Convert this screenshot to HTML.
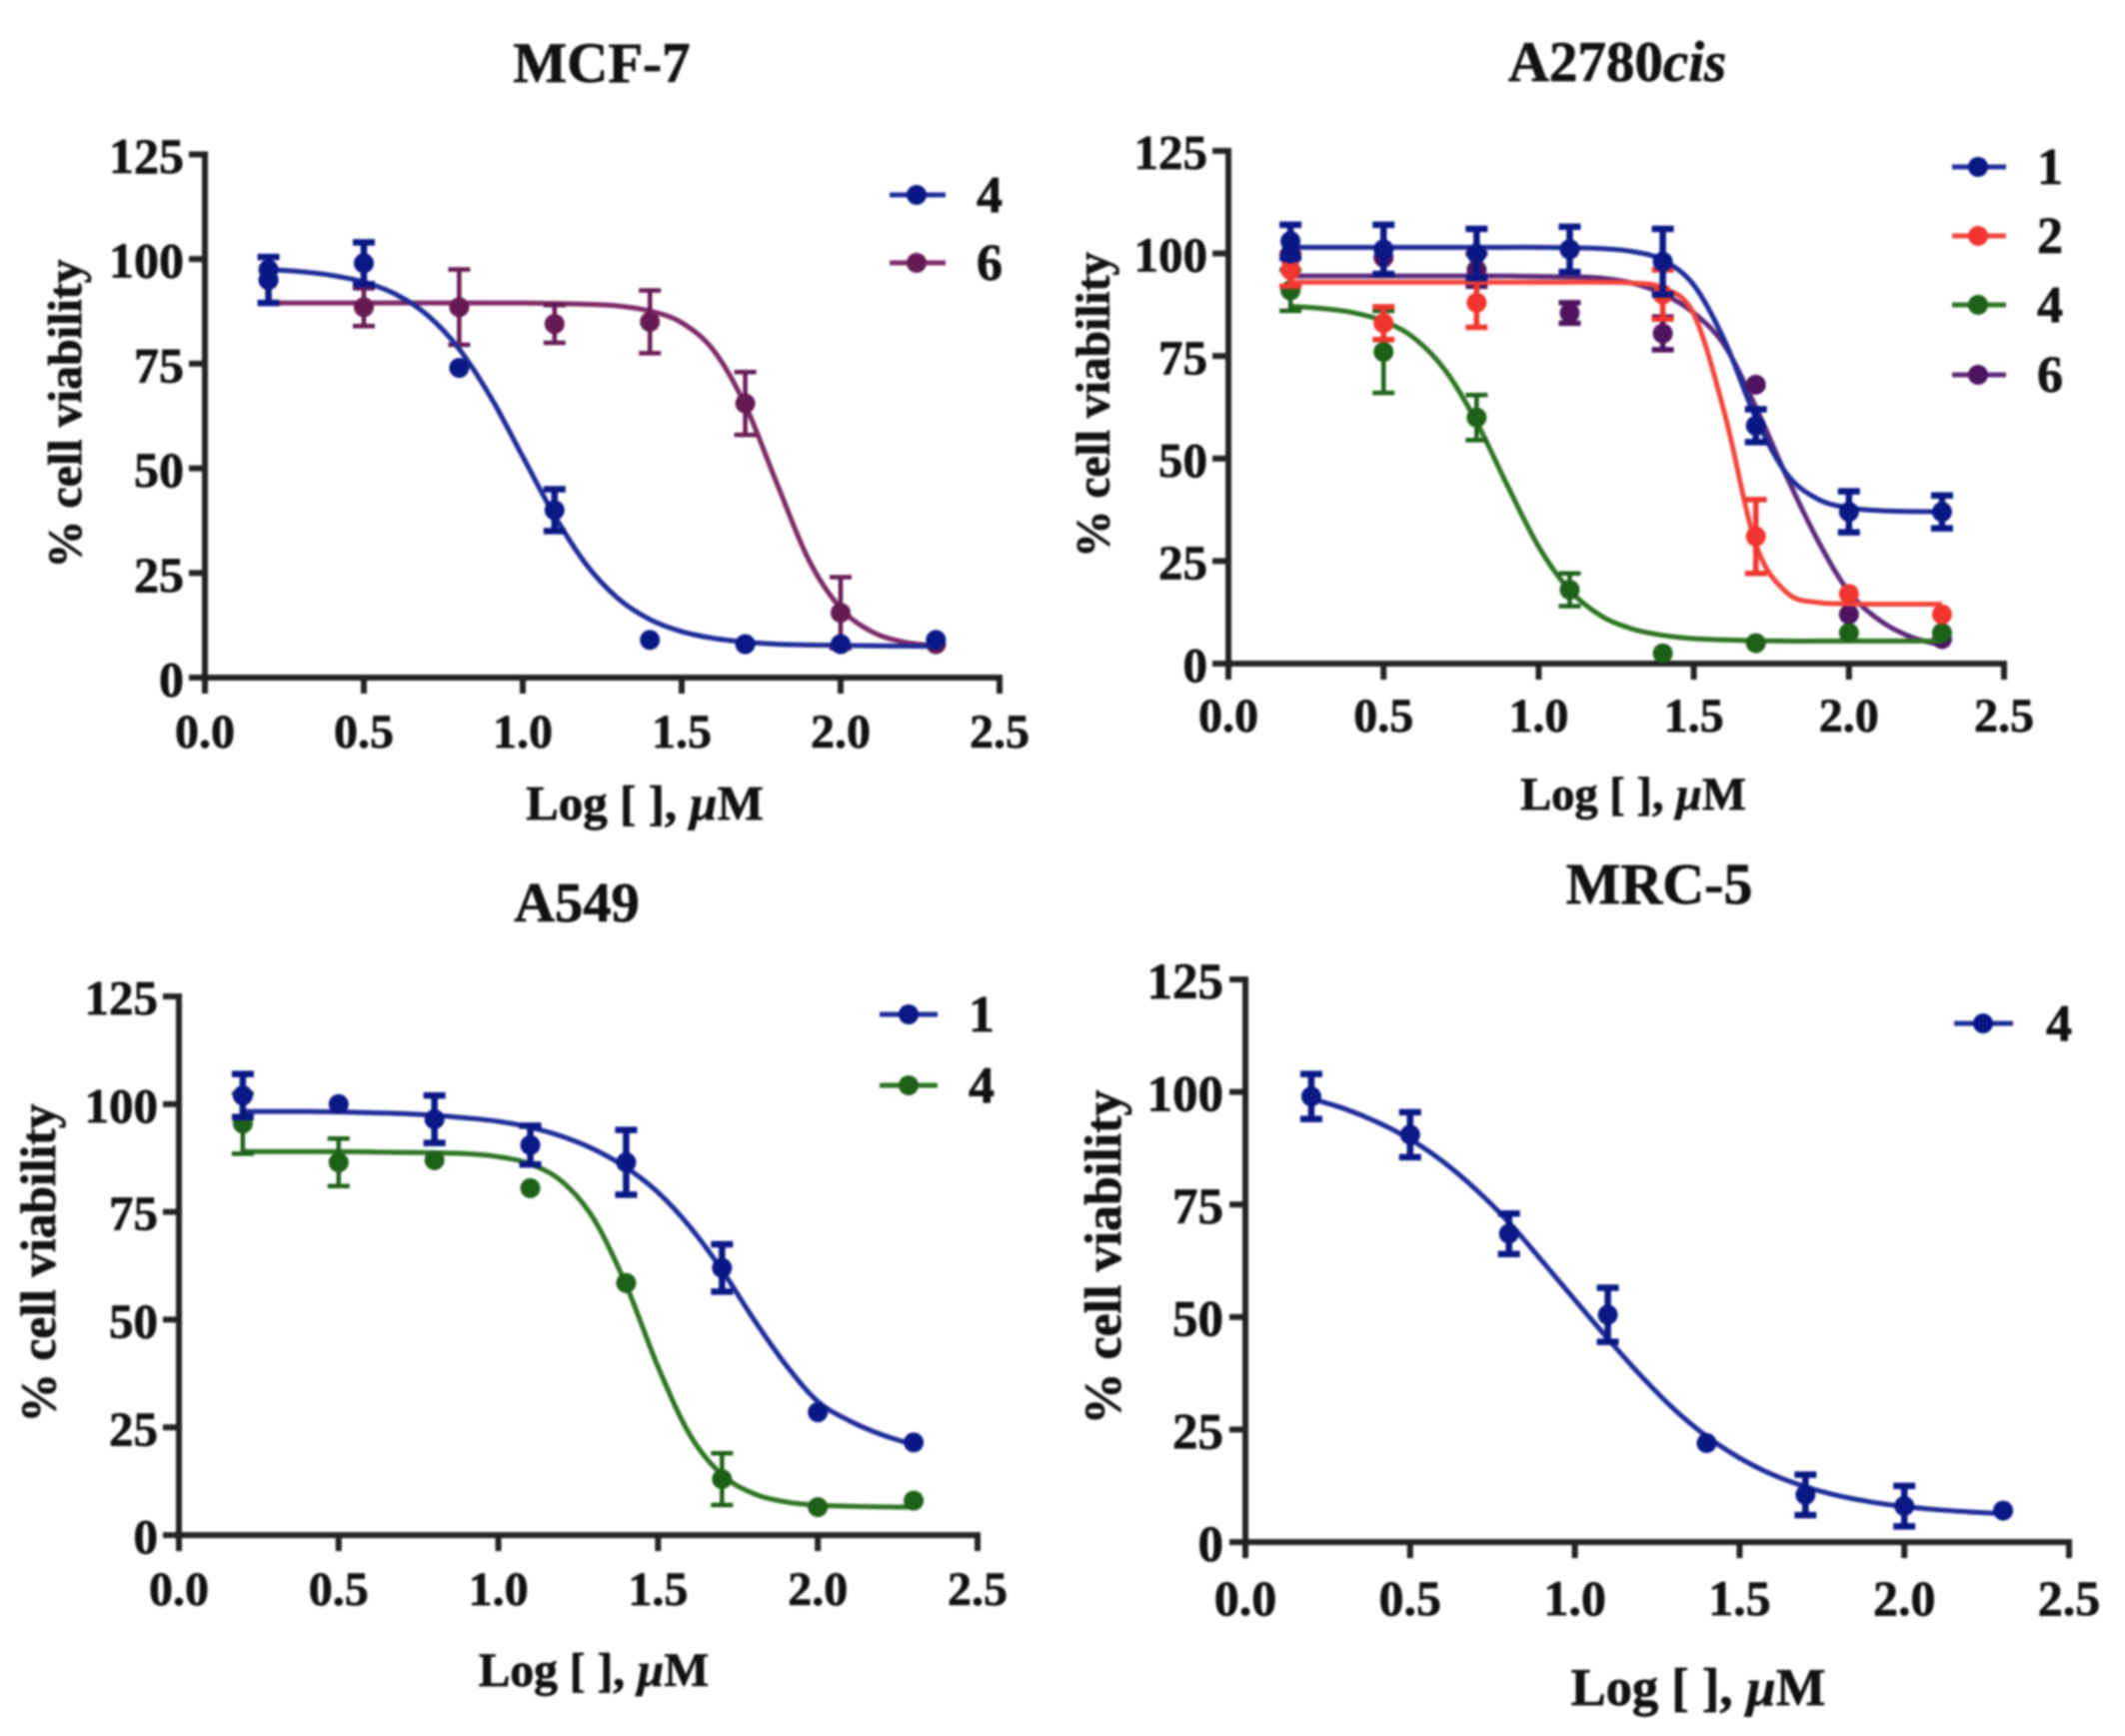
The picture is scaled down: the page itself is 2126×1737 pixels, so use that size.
<!DOCTYPE html>
<html lang="en">
<head>
<meta charset="utf-8">
<title>Cell viability dose-response curves</title>
<style>
html,body{margin:0;padding:0;background:#fff;}
#figure{display:block;width:2126px;height:1737px;filter:blur(1.1px);}
text{font-family:"Liberation Serif",serif;font-weight:bold;fill:#111;stroke:#111;stroke-width:0.7px;}
</style>
</head>
<body>
<svg id="figure" xmlns="http://www.w3.org/2000/svg" width="2126" height="1737" viewBox="0 0 2126 1737">
  <rect x="0" y="0" width="2126" height="1737" fill="#ffffff"/>

  <text x="602" y="82" font-size="57" text-anchor="middle">MCF-7</text>
  <text x="1618" y="81" font-size="57" text-anchor="middle">A2780<tspan font-style="italic">cis</tspan></text>
  <text x="577" y="922" font-size="56.5" text-anchor="middle">A549</text>
  <text x="1660" y="904" font-size="58" text-anchor="middle">MRC-5</text>

  <text x="645" y="820" font-size="49" text-anchor="middle">Log [ ], <tspan font-style="italic">µ</tspan>M</text>
  <text x="1634" y="810" font-size="46.5" text-anchor="middle">Log [ ], <tspan font-style="italic">µ</tspan>M</text>
  <text x="594" y="1687" font-size="47.5" text-anchor="middle">Log [ ], <tspan font-style="italic">µ</tspan>M</text>
  <text x="1699" y="1706" font-size="52.5" text-anchor="middle">Log [ ], <tspan font-style="italic">µ</tspan>M</text>

  <text transform="translate(81 414) rotate(-90)" font-size="48" text-anchor="middle">% cell viability</text>
  <text transform="translate(1109.5 405) rotate(-90)" font-size="47.5" text-anchor="middle">% cell viability</text>
  <text transform="translate(55 1264) rotate(-90)" font-size="49.5" text-anchor="middle">% cell viability</text>
  <text transform="translate(1121 1258) rotate(-90)" font-size="52" text-anchor="middle">% cell viability</text>
</svg>

<script>
// ---------- shared axis data ----------
const xTickValues = [0, 0.5, 1.0, 1.5, 2.0, 2.5];
const xTickLabels = ["0.0", "0.5", "1.0", "1.5", "2.0", "2.5"];
const yTickValues = [0, 25, 50, 75, 100, 125];
const yTickLabels = ["0", "25", "50", "75", "100", "125"];
const doses = [0.2, 0.5, 0.8, 1.1, 1.4, 1.7, 2.0, 2.3];
const curveDoses = [0.2, 0.3, 0.4, 0.5, 0.6, 0.7, 0.8, 0.9, 1.0, 1.1, 1.2, 1.3, 1.4, 1.5, 1.6, 1.7, 1.8, 1.9, 2.0, 2.1, 2.2, 2.3];

// ---------- MCF-7 ----------
const mcf7Compound4Values = [95, 99, 74, 40, 9, 8, 8, 9];
const mcf7Compound4Errors = [5.5, 5, 1, 5, 1, 1, 1, 1];
const mcf7Compound4Overlap = [97.5, null, null, null, null, null, null, null];
const mcf7Compound4Curve = [97.5, 97.0, 96.1, 94.5, 91.6, 86.6, 78.5, 66.9, 52.8, 38.7, 27.0, 18.9, 13.9, 11.0, 9.4, 8.5, 8.0, 7.8, 7.7, 7.6, 7.55, 7.5];
const mcf7Compound6Values = [95, 88.5, 88.5, 84.5, 85, 65.5, 15.5, 8];
const mcf7Compound6Errors = [1, 4.5, 9, 4.5, 7.5, 7.5, 8.5, 1];
const mcf7Compound6Curve = [89.5, 89.5, 89.5, 89.5, 89.5, 89.5, 89.5, 89.5, 89.5, 89.4, 89.2, 88.8, 87.6, 84.8, 78.2, 65.1, 46.3, 28.1, 16.6, 10.9, 8.5, 7.6];

// ---------- A2780cis ----------
const a2780Compound1Values = [103, 101, 100, 101, 98, 58, 37, 37];
const a2780Compound1Errors = [4, 6, 6, 5.5, 8, 4, 5, 4];
const a2780Compound1Overlap = [100, null, null, null, null, null, null, null];
const a2780Compound1Curve = [101.5, 101.5, 101.5, 101.5, 101.5, 101.5, 101.5, 101.5, 101.5, 101.4, 101.2, 100.5, 98.4, 92.3, 78.6, 59.9, 46.2, 40.1, 38.0, 37.3, 37.1, 37.0];
const a2780Compound2Values = [96, 83, 88, 101, 90, 31, 17, 12];
const a2780Compound2Errors = [4, 4, 6, 1, 6, 9, 1, 1];
const a2780Compound2Curve = [93, 93, 93, 93, 93, 93, 93, 93, 93, 93, 93, 92.8, 91.6, 85.2, 60.8, 29.1, 17.3, 14.9, 14.6, 14.5, 14.5, 14.5];
const a2780Compound4Values = [91, 76, 60, 18, 2.5, 5, 7.5, 7.5];
const a2780Compound4Errors = [5, 10, 5.5, 4, 1, 1, 1, 1];
const a2780Compound4Curve = [87.1, 86.6, 85.6, 83.5, 79.3, 71.4, 58.9, 43.3, 28.5, 17.9, 11.7, 8.5, 6.9, 6.1, 5.8, 5.6, 5.5, 5.5, 5.5, 5.5, 5.5, 5.5];
const a2780Compound6Values = [99, 99, 96, 85.5, 80.5, 68, 12, 6];
const a2780Compound6Errors = [1, 1, 4, 2.5, 4, 1, 1, 1];
const a2780Compound6Curve = [94.5, 94.5, 94.5, 94.5, 94.5, 94.5, 94.5, 94.5, 94.4, 94.3, 94.0, 92.8, 90.2, 85.5, 77.5, 62.5, 45.5, 30.0, 17.5, 10.5, 6.5, 4.5];

// ---------- A549 ----------
const a549Compound1Values = [102, 100, 96.5, 90.5, 86.5, 62, 28.5, 21.5];
const a549Compound1Errors = [5, 1, 5.5, 4.5, 7.5, 5.5, 1, 1];
const a549Compound1Curve = [98.3, 98.3, 98.3, 98.2, 98.0, 97.8, 97.4, 96.8, 96.0, 94.6, 92.5, 89.5, 85.3, 79.5, 71.5, 61.5, 50.0, 39.5, 31.0, 26.5, 23.3, 21.0];
const a549Compound4Values = [95.5, 86.5, 87, 80.5, 58.5, 13, 6.5, 8];
const a549Compound4Errors = [7, 5.5, 1, 1, 1, 6, 1, 1];
const a549Compound4Curve = [89, 89, 89, 89, 88.9, 88.8, 88.7, 88.5, 87.8, 86.1, 82.0, 73.2, 58.0, 39.0, 23.2, 14.0, 9.6, 7.7, 6.95, 6.7, 6.55, 6.5];

// ---------- MRC-5 ----------
const mrc5Compound4Values = [99, 90.5, 68.5, 50.5, 22, 10.5, 8, 7];
const mrc5Compound4Errors = [5, 5, 4.5, 6, 1, 4.5, 4.5, 1];
const mrc5Compound4Curve = [98.5, 96.3, 93.3, 89.5, 84.5, 78.3, 71.0, 62.5, 53.8, 45.2, 37.0, 29.6, 23.5, 18.7, 15.0, 12.3, 10.3, 8.9, 7.9, 7.2, 6.7, 6.3];

// ---------- panel layout and style ----------
const navy = { line: "#1f2c98", mark: "#0a1886", barWidth: 6.5 };
const plum = { line: "#7d2a66", mark: "#661a52", barWidth: 4.5 };
const violet = { line: "#5c2a7a", mark: "#4e1460", barWidth: 5.5 };
const red = { line: "#f2453c", mark: "#f0362e", barWidth: 5.5 };
const green = { line: "#2f7424", mark: "#1d6118", barWidth: 4.5 };

const panels = [
  {
    id: "mcf7", left: 205, right: 1000, bottom: 678, top: 154.5,
    xLabelBaseline: 748, yLabelRight: 184, xFontSize: 48, yFontSize: 50,
    legendLine: [890, 946], legendMarker: 917, legendText: 990, legendRows: [195, 263],
    series: [
      { key: "4", color: navy, values: mcf7Compound4Values, errors: mcf7Compound4Errors, overlap: mcf7Compound4Overlap, curve: mcf7Compound4Curve, legendRow: 0 },
      { key: "6", color: plum, values: mcf7Compound6Values, errors: mcf7Compound6Errors, curve: mcf7Compound6Curve, legendRow: 1 }
    ],
    drawOrder: [1, 0]
  },
  {
    id: "a2780cis", left: 1229, right: 2005, bottom: 664, top: 151,
    xLabelBaseline: 732, yLabelRight: 1208, xFontSize: 48, yFontSize: 49,
    legendLine: [1953, 2007], legendMarker: 1979, legendText: 2051, legendRows: [167, 236, 305, 375],
    series: [
      { key: "1", color: navy, values: a2780Compound1Values, errors: a2780Compound1Errors, overlap: a2780Compound1Overlap, curve: a2780Compound1Curve, legendRow: 0 },
      { key: "2", color: red, values: a2780Compound2Values, errors: a2780Compound2Errors, curve: a2780Compound2Curve, legendRow: 1 },
      { key: "4", color: green, values: a2780Compound4Values, errors: a2780Compound4Errors, curve: a2780Compound4Curve, legendRow: 2 },
      { key: "6", color: violet, values: a2780Compound6Values, errors: a2780Compound6Errors, curve: a2780Compound6Curve, legendRow: 3 }
    ],
    drawOrder: [3, 2, 1, 0]
  },
  {
    id: "a549", left: 179, right: 978, bottom: 1536, top: 997,
    xLabelBaseline: 1606, yLabelRight: 158, xFontSize: 48, yFontSize: 49,
    legendLine: [880, 938], legendMarker: 909, legendText: 982, legendRows: [1015, 1086],
    series: [
      { key: "1", color: navy, values: a549Compound1Values, errors: a549Compound1Errors, curve: a549Compound1Curve, legendRow: 0 },
      { key: "4", color: green, values: a549Compound4Values, errors: a549Compound4Errors, curve: a549Compound4Curve, legendRow: 1 }
    ],
    drawOrder: [1, 0]
  },
  {
    id: "mrc5", left: 1246, right: 2070, bottom: 1543, top: 980,
    xLabelBaseline: 1616, yLabelRight: 1224, xFontSize: 50, yFontSize: 51,
    legendLine: [1955, 2014], legendMarker: 1984, legendText: 2060, legendRows: [1024],
    series: [
      { key: "4", color: navy, values: mrc5Compound4Values, errors: mrc5Compound4Errors, curve: mrc5Compound4Curve, legendRow: 0 }
    ],
    drawOrder: [0]
  }
];

const NS = "http://www.w3.org/2000/svg";
const AXIS_COLOR = "#222222";
const AXIS_WIDTH = 6;
const TICK_LEN = 16;
const CAP_HALF = 11;
const MARKER_RADIUS = 10;
const figure = document.getElementById("figure");

function make(tag, attrs, parent) {
  const node = document.createElementNS(NS, tag);
  Object.keys(attrs).forEach(function (k) { node.setAttribute(k, attrs[k]); });
  parent.appendChild(node);
  return node;
}

function smoothPath(points) {
  let d = "M" + points[0][0].toFixed(2) + " " + points[0][1].toFixed(2);
  for (let i = 0; i < points.length - 1; i++) {
    const p0 = points[Math.max(i - 1, 0)];
    const p1 = points[i];
    const p2 = points[i + 1];
    const p3 = points[Math.min(i + 2, points.length - 1)];
    const c1x = p1[0] + (p2[0] - p0[0]) / 6;
    const c1y = p1[1] + (p2[1] - p0[1]) / 6;
    const c2x = p2[0] - (p3[0] - p1[0]) / 6;
    const c2y = p2[1] - (p3[1] - p1[1]) / 6;
    d += "C" + c1x.toFixed(2) + " " + c1y.toFixed(2) + " " + c2x.toFixed(2) + " " + c2y.toFixed(2) + " " + p2[0].toFixed(2) + " " + p2[1].toFixed(2);
  }
  return d;
}

panels.forEach(function (panel) {
  const xScale = function (v) { return panel.left + (v / 2.5) * (panel.right - panel.left); };
  const yScale = function (v) { return panel.bottom - (v / 125) * (panel.bottom - panel.top); };

  const group = make("g", {}, figure);
  
  

  // axes
  const yAxis = make("line", { x1: panel.left, x2: panel.left, y1: panel.top, y2: panel.bottom, stroke: AXIS_COLOR, "stroke-width": AXIS_WIDTH, "stroke-linecap": "square" }, group);
  
  

  const xAxis = make("line", { x1: panel.left, x2: panel.right, y1: panel.bottom, y2: panel.bottom, stroke: AXIS_COLOR, "stroke-width": AXIS_WIDTH, "stroke-linecap": "square" }, group);
  
  

  yTickValues.forEach(function (v, i) {
    const tick = make("line", { x1: panel.left - TICK_LEN, x2: panel.left, y1: yScale(v), y2: yScale(v), stroke: AXIS_COLOR, "stroke-width": AXIS_WIDTH }, group);
    
    
    const label = make("text", { x: panel.yLabelRight, y: yScale(v) + panel.yFontSize * 0.37, "font-size": panel.yFontSize, "text-anchor": "end" }, group);
    
    
    label.textContent = yTickLabels[i];
  });

  xTickValues.forEach(function (v, i) {
    const tick = make("line", { x1: xScale(v), x2: xScale(v), y1: panel.bottom, y2: panel.bottom + TICK_LEN, stroke: AXIS_COLOR, "stroke-width": AXIS_WIDTH }, group);
    
    
    const label = make("text", { x: xScale(v), y: panel.xLabelBaseline, "font-size": panel.xFontSize, "text-anchor": "middle" }, group);
    
    
    label.textContent = xTickLabels[i];
  });

  // series
  panel.drawOrder.forEach(function (index) {
    const s = panel.series[index];
    const seriesGroup = make("g", {}, group);
    
    

    const pts = curveDoses.map(function (d, i) { return [xScale(d), yScale(s.curve[i])]; });
    const curve = make("path", { d: smoothPath(pts), fill: "none", stroke: s.color.line, "stroke-width": 5, "stroke-linejoin": "round" }, seriesGroup);
    
    

    doses.forEach(function (d, i) {
      const cx = xScale(d);
      const hi = yScale(s.values[i] + s.errors[i]);
      const lo = yScale(s.values[i] - s.errors[i]);
      if (s.errors[i] > 1) {
        const bar = make("path", {
          d: "M" + cx + " " + hi + "V" + lo + "M" + (cx - CAP_HALF) + " " + hi + "H" + (cx + CAP_HALF) + "M" + (cx - CAP_HALF) + " " + lo + "H" + (cx + CAP_HALF),
          fill: "none", stroke: s.color.mark, "stroke-width": s.color.barWidth
        }, seriesGroup);
        
        
      }
      const dot = make("circle", { cx: cx, cy: yScale(s.values[i]), r: MARKER_RADIUS, fill: s.color.mark }, seriesGroup);
      
      
      if (s.overlap && s.overlap[i] !== null) {
        const second = make("circle", { cx: cx, cy: yScale(s.overlap[i]), r: MARKER_RADIUS, fill: s.color.mark }, seriesGroup);
        
        
      }
    });
  });

  // legend
  panel.series.forEach(function (s) {
    const rowY = panel.legendRows[s.legendRow];
    const entry = make("g", {}, group);
    
    

    const key = make("line", { x1: panel.legendLine[0], x2: panel.legendLine[1], y1: rowY, y2: rowY, stroke: s.color.line, "stroke-width": 5 }, entry);
    
    

    const marker = make("circle", { cx: panel.legendMarker, cy: rowY, r: MARKER_RADIUS, fill: s.color.mark }, entry);
    
    

    const label = make("text", { x: panel.legendText, y: rowY + 17, "font-size": 52, "text-anchor": "middle" }, entry);
    
    
    label.textContent = s.key;
  });
});
</script>
</body>
</html>
